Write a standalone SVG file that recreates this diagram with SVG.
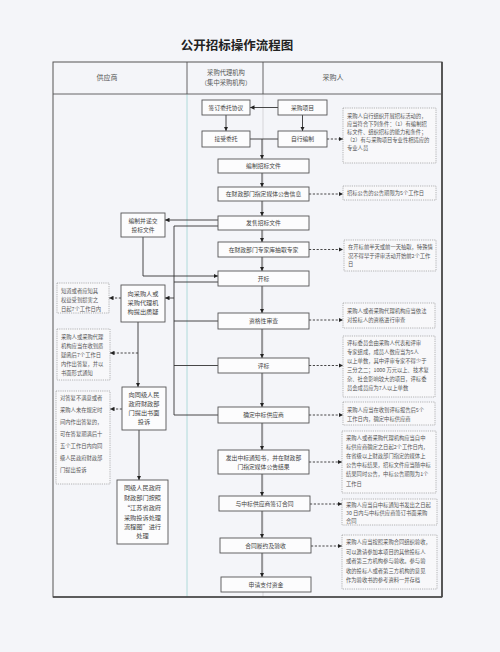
<svg xmlns="http://www.w3.org/2000/svg" width="500" height="652" viewBox="0 0 500 652">
<defs>
<marker id="a" viewBox="0 0 6 6" refX="6" refY="3" markerWidth="4.5" markerHeight="4.5" orient="auto" markerUnits="userSpaceOnUse"><path d="M0,0 L6,3 L0,6 z" fill="#222"/></marker>
</defs>
<style>
text{font-family:"Noto Sans CJK SC","Liberation Sans",sans-serif;fill:#444}
.t{font-size:12.5px;font-weight:bold;fill:#222}
.h{font-size:7px;fill:#555}
.b{font-size:5.8px;text-anchor:middle}
.lb{font-size:6.2px;text-anchor:middle}
.n{font-size:5.3px;fill:#555}
.box{fill:#fcfcfd;stroke:#555;stroke-width:0.9}
.note{fill:#f8f8fa;stroke:#888;stroke-width:0.6;stroke-dasharray:1.2,1}
.c{fill:none;stroke:#333;stroke-width:0.9}
.d{fill:none;stroke:#333;stroke-width:0.9;stroke-dasharray:2.2,1.6}
</style>
<rect x="0" y="0" width="500" height="652" fill="#f4f5f9"/>
<text class="t" x="237" y="50" text-anchor="middle">公开招标操作流程图</text>
<g id="frame">
<line x1="187" y1="94" x2="187" y2="597" stroke="#9fd3d3" stroke-width="0.8"/>
<line x1="263" y1="94" x2="263" y2="597" stroke="#c8c8cc" stroke-width="0.7"/>
<rect x="53" y="62" width="389" height="535" fill="none" stroke="#555" stroke-width="1"/>
<line x1="442" y1="62" x2="442" y2="597" stroke="#444" stroke-width="1.6"/>
<line x1="53" y1="597" x2="442" y2="597" stroke="#444" stroke-width="1.6"/>
<line x1="53" y1="94" x2="442" y2="94" stroke="#555" stroke-width="0.9"/>
<line x1="187" y1="62" x2="187" y2="94" stroke="#555" stroke-width="0.9"/>
<line x1="263" y1="62" x2="263" y2="94" stroke="#555" stroke-width="0.9"/>
<text class="h" x="107" y="80" text-anchor="middle">供应商</text>
<text class="h" x="226" y="75" text-anchor="middle" style="font-size:6.3px">采购代理机构</text>
<text class="h" x="226" y="85" text-anchor="middle" style="font-size:6.3px">（集中采购机构）</text>
<text class="h" x="333" y="80" text-anchor="middle">采购人</text>
</g>
<g id="connectors">
<line class="c" x1="278" y1="107.5" x2="250" y2="107.5" marker-end="url(#a)"/>
<line class="c" x1="226" y1="115" x2="226" y2="131" marker-end="url(#a)"/>
<line class="c" x1="302.5" y1="115" x2="302.5" y2="131" marker-end="url(#a)"/>
<line class="c" x1="250" y1="139" x2="278" y2="139"/>
<line class="c" x1="262" y1="139" x2="262" y2="159" marker-end="url(#a)"/>
<line class="c" x1="262" y1="173" x2="262" y2="187" marker-end="url(#a)"/>
<line class="c" x1="262" y1="201" x2="262" y2="216" marker-end="url(#a)"/>
<line class="c" x1="262" y1="230" x2="262" y2="242" marker-end="url(#a)"/>
<line class="c" x1="262" y1="257" x2="262" y2="271" marker-end="url(#a)"/>
<line class="c" x1="262" y1="286" x2="262" y2="313" marker-end="url(#a)"/>
<line class="c" x1="262" y1="329" x2="262" y2="358" marker-end="url(#a)"/>
<line class="c" x1="262" y1="373" x2="262" y2="407" marker-end="url(#a)"/>
<line class="c" x1="262" y1="423" x2="262" y2="450" marker-end="url(#a)"/>
<line class="c" x1="262" y1="474" x2="262" y2="496" marker-end="url(#a)"/>
<line class="c" x1="262" y1="511" x2="262" y2="538" marker-end="url(#a)"/>
<line class="c" x1="262" y1="553" x2="262" y2="577" marker-end="url(#a)"/>
<line class="c" x1="218" y1="220" x2="165" y2="220" marker-end="url(#a)"/>
<path class="c" d="M143,237 V276 H218" marker-end="url(#a)"/>
<path class="c" d="M218,226 H174 V415 H218"/>
<line class="c" x1="174" y1="282" x2="218" y2="282"/>
<line class="c" x1="174" y1="321" x2="218" y2="321"/>
<line class="c" x1="174" y1="365.5" x2="218" y2="365.5"/>
<line class="c" x1="174" y1="298" x2="165" y2="298" marker-end="url(#a)"/>
<line class="c" x1="138" y1="322" x2="138" y2="387" marker-end="url(#a)"/>
<line class="c" x1="139" y1="430" x2="139" y2="480" marker-end="url(#a)"/>
<line class="d" x1="121" y1="298" x2="109" y2="298" marker-end="url(#a)"/>
<line class="d" x1="138" y1="353" x2="110" y2="353" marker-end="url(#a)"/>
<line class="d" x1="122" y1="409" x2="110" y2="409" marker-end="url(#a)"/>
<line class="d" x1="327" y1="139" x2="343" y2="139" marker-end="url(#a)"/>
<line class="d" x1="309" y1="194" x2="343" y2="194" marker-end="url(#a)"/>
<line class="d" x1="309" y1="249.5" x2="343" y2="249.5" marker-end="url(#a)"/>
<line class="d" x1="309" y1="320" x2="343" y2="320" marker-end="url(#a)"/>
<line class="d" x1="309" y1="365.5" x2="343" y2="365.5" marker-end="url(#a)"/>
<line class="d" x1="309" y1="415" x2="343" y2="415" marker-end="url(#a)"/>
<line class="d" x1="309" y1="462" x2="342" y2="462" marker-end="url(#a)"/>
<line class="d" x1="310" y1="504" x2="342" y2="504" marker-end="url(#a)"/>
<line class="d" x1="311" y1="546" x2="342" y2="546" marker-end="url(#a)"/>
</g>
<g id="n_sign"><rect class="box" x="202" y="100" width="48" height="15"/><text class="b" x="226" y="109.5">签订委托协议</text></g>
<g id="n_project"><rect class="box" x="278" y="100" width="49" height="15"/><text class="b" x="302.5" y="109.5">采购项目</text></g>
<g id="n_accept"><rect class="box" x="202" y="131" width="48" height="16"/><text class="b" x="226" y="141">接受委托</text></g>
<g id="n_self"><rect class="box" x="278" y="131" width="49" height="16"/><text class="b" x="302.5" y="141">自行编制</text></g>
<g id="n_doc"><rect class="box" x="218" y="159" width="91" height="14"/><text class="b" x="263.5" y="168">编制招标文件</text></g>
<g id="n_pub"><rect class="box" x="218" y="187" width="91" height="14"/><text class="b" x="263.5" y="196">在财政部门指定媒体公告信息</text></g>
<g id="n_sell"><rect class="box" x="218" y="216" width="91" height="14"/><text class="b" x="263.5" y="225">发售招标文件</text></g>
<g id="n_expert"><rect class="box" x="218" y="242" width="91" height="15"/><text class="b" x="263.5" y="251.5">在财政部门专家库抽取专家</text></g>
<g id="n_open"><rect class="box" x="218" y="271" width="91" height="15"/><text class="b" x="263.5" y="280.5">开标</text></g>
<g id="n_qual"><rect class="box" x="218" y="313" width="91" height="16"/><text class="b" x="263.5" y="323">资格性审查</text></g>
<g id="n_eval"><rect class="box" x="218" y="358" width="91" height="15"/><text class="b" x="263.5" y="367.5">评标</text></g>
<g id="n_win"><rect class="box" x="218" y="407" width="91" height="16"/><text class="b" x="263.5" y="417">确定中标供应商</text></g>
<g id="n_notice"><rect class="box" x="218" y="450" width="91" height="24"/><text class="b" x="263.5" y="459.5">发出中标通知书，并在财政部</text><text class="b" x="263.5" y="468.5">门指定媒体公告结果</text></g>
<g id="n_contract"><rect class="box" x="219" y="496" width="91" height="15"/><text class="b" x="264.5" y="505.5">与中标供应商签订合同</text></g>
<g id="n_accept2"><rect class="box" x="220" y="538" width="91" height="15"/><text class="b" x="265.5" y="547.5">合同履约及验收</text></g>
<g id="n_pay"><rect class="box" x="221" y="577" width="90" height="15"/><text class="b" x="266" y="586.5">申请支付资金</text></g>
<g id="n_bid"><rect class="box" x="121" y="213" width="44" height="24"/><text class="b" x="143" y="223">编制并递交</text><text class="b" x="143" y="231.5">投标文件</text></g>
<g id="n_query"><rect class="box" x="121" y="285" width="44" height="37"/><text class="lb" x="143" y="296">向采购人或</text><text class="lb" x="143" y="305">采购代理机</text><text class="lb" x="143" y="314">构提出质疑</text></g>
<g id="n_complain"><rect class="box" x="122" y="387" width="44" height="43"/><text class="lb" x="144" y="397">向同级人民</text><text class="lb" x="144" y="406">政府财政部</text><text class="lb" x="144" y="415">门提出书面</text><text class="lb" x="144" y="424">投诉</text></g>
<g id="n_handle"><rect class="box" x="117" y="480" width="51" height="64"/><text class="lb" x="142.5" y="490">同级人民政府</text><text class="lb" x="142.5" y="500">财政部门按照</text><text class="lb" x="142.5" y="510">“江苏省政府</text><text class="lb" x="142.5" y="520">采购投诉处理</text><text class="lb" x="142.5" y="529">流程图”进行</text><text class="lb" x="142.5" y="538">处理</text></g>
<g id="note_l1"><rect class="note" x="57" y="283" width="52" height="30"/><text class="n" x="61" y="293">知道或者应知其</text><text class="n" x="61" y="302">权益受到损害之</text><text class="n" x="61" y="311">日起7个工作日内</text></g>
<g id="note_l2"><rect class="note" x="57" y="329" width="53" height="51"/><text class="n" x="61" y="339">采购人或采购代理</text><text class="n" x="61" y="348">机构应当在收到质</text><text class="n" x="61" y="357">疑函后7个工作日</text><text class="n" x="61" y="366">内作出答复，并以</text><text class="n" x="61" y="375">书面形式通知</text></g>
<g id="note_l3"><rect class="note" x="56" y="391" width="54" height="93"/><text class="n" x="60" y="400">对答复不满意或者</text><text class="n" x="60" y="412">采购人未在规定时</text><text class="n" x="60" y="424">间内作出答复的，</text><text class="n" x="60" y="436">可在答复期满后十</text><text class="n" x="60" y="448">五个工作日内向同</text><text class="n" x="60" y="460">级人民政府财政部</text><text class="n" x="60" y="472">门提出投诉</text></g>
<g id="note_r1"><rect class="note" x="343" y="108" width="93" height="55"/><text class="n" x="347" y="118">采购人自行组织开展招标活动的，</text><text class="n" x="347" y="126">应当符合下列条件：（1）有编制招</text><text class="n" x="347" y="134">标文件、组织招标的能力和条件；</text><text class="n" x="347" y="142">（2）有与采购项目专业性相适应的</text><text class="n" x="347" y="150">专业人员</text></g>
<g id="note_r2"><rect class="note" x="343" y="186" width="93" height="14"/><text class="n" x="347" y="195">招标公告的公告期限为5个工作日</text></g>
<g id="note_r3"><rect class="note" x="344" y="240" width="92" height="31"/><text class="n" x="348" y="249">在开标前半天或前一天抽取，特殊情</text><text class="n" x="348" y="257.5">况不得早于评审活动开始前2个工作</text><text class="n" x="348" y="266">日</text></g>
<g id="note_r4"><rect class="note" x="343" y="303" width="92" height="25"/><text class="n" x="347" y="313">采购人或者采购代理机构应当依法</text><text class="n" x="347" y="321.5">对投标人的资格进行审查</text></g>
<g id="note_r5"><rect class="note" x="343" y="336" width="92" height="61"/><text class="n" x="347" y="345">评标委员会由采购人代表和评审</text><text class="n" x="347" y="354">专家组成，成员人数应当为5人</text><text class="n" x="347" y="363">以上单数，其中评审专家不得少于</text><text class="n" x="347" y="372">三分之二；1000 万元以上、技术复</text><text class="n" x="347" y="381">杂、社会影响较大的项目，评标委</text><text class="n" x="347" y="390">员会成员应为7人以上单数</text></g>
<g id="note_r6"><rect class="note" x="343" y="402" width="92" height="23"/><text class="n" x="347" y="412">采购人应当在收到评标报告后5个</text><text class="n" x="347" y="420.5">工作日内，确定中标供应商</text></g>
<g id="note_r7"><rect class="note" x="342" y="431" width="94" height="62"/><text class="n" x="346" y="440">采购人或者采购代理机构应当自中</text><text class="n" x="346" y="449">标供应商确定之日起2个工作日内，</text><text class="n" x="346" y="458">在省级以上财政部门指定的媒体上</text><text class="n" x="346" y="467">公告中标结果，招标文件应当随中标</text><text class="n" x="346" y="476">结果同时公告，中标公告期限为1个</text><text class="n" x="346" y="486">工作日</text></g>
<g id="note_r8"><rect class="note" x="342" y="499" width="95" height="26"/><text class="n" x="346" y="507">采购人应当自中标通知书发出之日起</text><text class="n" x="346" y="515">30 日内与中标供应商签订书面采购</text><text class="n" x="346" y="523">合同</text></g>
<g id="note_r9"><rect class="note" x="342" y="535" width="95" height="54"/><text class="n" x="346" y="544">采购人应当按照采购合同组织验收，</text><text class="n" x="346" y="553.5">可以邀请参加本项目的其他投标人</text><text class="n" x="346" y="563">或者第三方机构参与验收。参与验</text><text class="n" x="346" y="572.5">收的投标人或者第三方机构的意见</text><text class="n" x="346" y="582">作为验收书的参考资料一并存档</text></g>
</svg>
